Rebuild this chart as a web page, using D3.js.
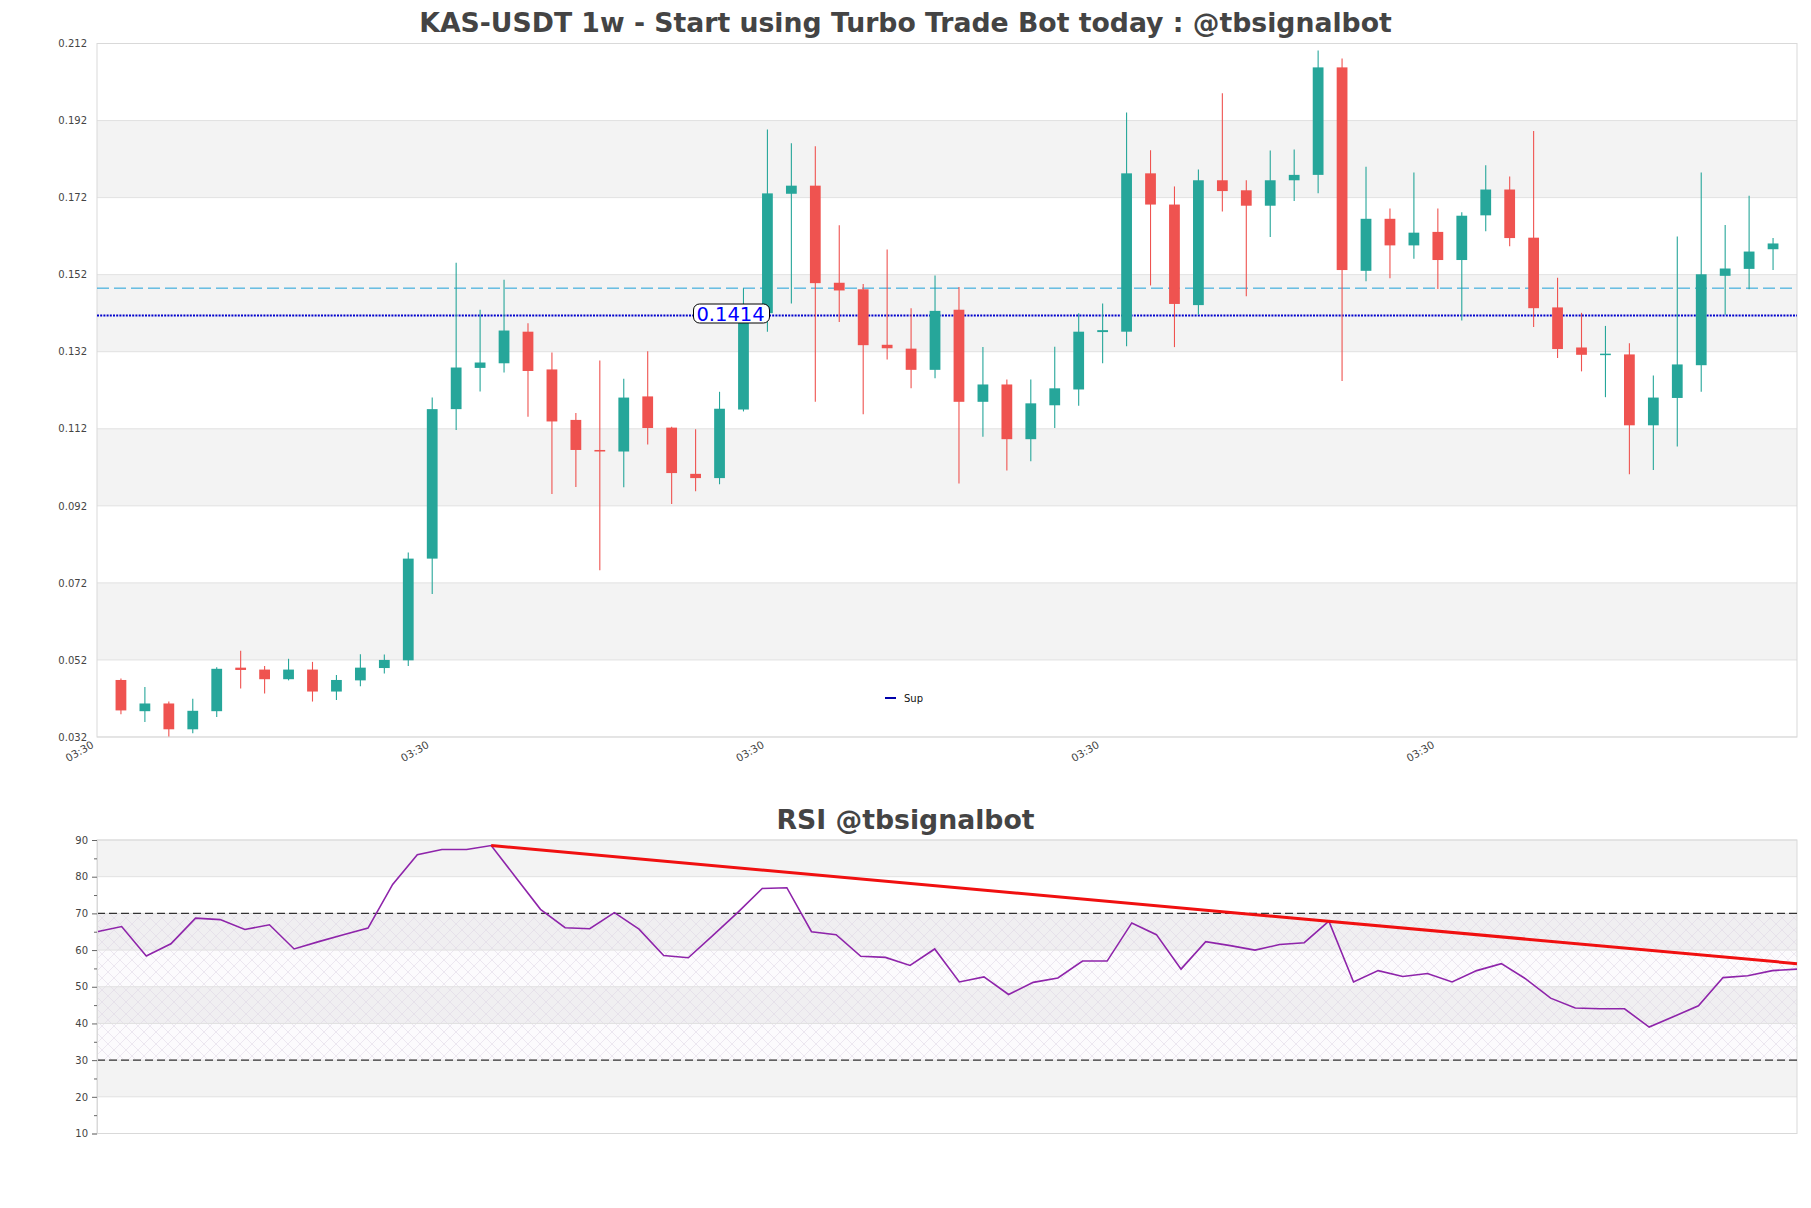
<!DOCTYPE html>
<html><head><meta charset="utf-8">
<script src="https://cdn.jsdelivr.net/npm/d3@7"></script>
<style>body{margin:0;background:#fff;} svg{display:block;}</style>
</head><body><svg id="c" width="1811" height="1208"></svg>
<script>
// ---------- data ----------
const opens  = [0.0468,0.0387,0.0407,0.0340,0.0387,0.0500,0.0495,0.0470,0.0495,0.0438,
                0.0467,0.0499,0.0519,0.0783,0.1171,0.1278,0.1290,0.1372,0.1274,0.1143,
                0.1065,0.1061,0.1204,0.1123,0.1003,0.0992,0.1170,0.1420,0.1730,0.1751,
                0.1499,0.1482,0.1338,0.1328,0.1273,0.1429,0.1190,0.1235,0.1093,0.1181,
                0.1222,0.1371,0.1372,0.1783,0.1702,0.1441,0.1765,0.1739,0.1699,0.1765,
                0.1779,0.2058,0.1530,0.1665,0.1596,0.1631,0.1558,0.1674,0.1741,0.1616,
                0.1435,0.1331,0.1313,0.1313,0.1129,0.1200,0.1285,0.1517,0.1535,0.1586];
const highs  = [0.0472,0.0450,0.0412,0.0419,0.0501,0.0544,0.0504,0.0523,0.0515,0.0481,
                0.0535,0.0534,0.0799,0.1201,0.1551,0.1429,0.1507,0.1394,0.1318,0.1161,
                0.1297,0.1250,0.1321,0.1125,0.1119,0.1216,0.1485,0.1897,0.1861,0.1853,
                0.1648,0.1496,0.1585,0.1433,0.1518,0.1488,0.1332,0.1248,0.1248,0.1333,
                0.1420,0.1445,0.1941,0.1843,0.1749,0.1793,0.1991,0.1765,0.1842,0.1845,
                0.2102,0.2081,0.1800,0.1692,0.1785,0.1692,0.1682,0.1804,0.1775,0.1893,
                0.1512,0.1421,0.1387,0.1342,0.1258,0.1619,0.1785,0.1649,0.1725,0.1615];
const lows   = [0.0379,0.0359,0.0321,0.0330,0.0372,0.0446,0.0433,0.0467,0.0412,0.0416,
                0.0452,0.0485,0.0504,0.0691,0.1117,0.1217,0.1266,0.1151,0.0951,0.0969,
                0.0753,0.0968,0.1079,0.0925,0.0958,0.0976,0.1165,0.1372,0.1445,0.1190,
                0.1397,0.1158,0.1300,0.1225,0.1251,0.0978,0.1099,0.1012,0.1036,0.1122,
                0.1180,0.1290,0.1334,0.1492,0.1332,0.1416,0.1684,0.1464,0.1618,0.1711,
                0.1731,0.1244,0.1503,0.1511,0.1561,0.1483,0.1401,0.1633,0.1594,0.1384,
                0.1304,0.1269,0.1202,0.1002,0.1013,0.1074,0.1216,0.1416,0.1482,0.1532];
const closes = [0.0389,0.0407,0.0340,0.0388,0.0497,0.0494,0.0470,0.0495,0.0438,0.0468,
                0.0500,0.0520,0.0783,0.1171,0.1279,0.1292,0.1375,0.1270,0.1139,0.1065,
                0.1061,0.1201,0.1122,0.1005,0.0992,0.1172,0.1398,0.1731,0.1751,0.1498,
                0.1479,0.1337,0.1329,0.1273,0.1426,0.1190,0.1235,0.1093,0.1186,0.1225,
                0.1372,0.1376,0.1783,0.1702,0.1444,0.1765,0.1737,0.1699,0.1765,0.1779,
                0.2058,0.1532,0.1665,0.1596,0.1629,0.1558,0.1673,0.1741,0.1615,0.1433,
                0.1327,0.1312,0.1315,0.1129,0.1201,0.1287,0.1521,0.1536,0.1580,0.1601];
const xTickIdx    = [-1, 13, 27, 41, 55];
const xTickLabels = ["03:30","03:30","03:30","03:30","03:30"];
const priceTicks  = [0.032,0.052,0.072,0.092,0.112,0.132,0.152,0.172,0.192,0.212];
const supLevel    = 0.1414;
const supLabel    = "0.1414";
const dashLevel   = 0.1485;
const legendLabels = ["Sup"];
const rsiValues = [65.0,66.4,58.4,61.7,68.7,68.3,65.6,66.9,60.3,62.3,
                   64.2,66.0,77.9,86.0,87.4,87.4,88.5,79.8,71.1,66.1,
                   65.8,70.2,65.7,58.5,57.9,64.0,70.2,76.8,77.0,65.0,
                   64.2,58.3,58.0,55.8,60.3,51.3,52.7,47.9,51.2,52.4,
                   57.0,57.0,67.4,64.2,54.8,62.3,61.2,60.0,61.5,62.0,
                   67.9,51.3,54.4,52.8,53.6,51.3,54.4,56.3,52.1,46.9,
                   44.2,44.0,44.0,39.0,41.9,44.8,52.5,53.0,54.4,54.8];
const rsiTicks      = [10,20,30,40,50,60,70,80,90];
const rsiMinorTicks = [15,25,35,45,55,65,75,85];
const rsiLevels     = [70,30];
const trendIdx  = [16,69];
const trendVals = [88.5,56.3];
const mainTitle = "KAS-USDT 1w - Start using Turbo Trade Bot today : @tbsignalbot";
const rsiTitle  = "RSI @tbsignalbot";

// ---------- layout ----------
const svg = d3.select("#c");
svg.append("rect").attr("width",1811).attr("height",1208).attr("fill","#fff");
const L = 97, R = 1797;
const mTop = 43.5, mBot = 737;
const rTop = 840, rBot = 1133.5;
const UP = "#26a69a", DN = "#ef5350";
const GRID = "#e1e1e1", BAND = "#f3f3f3", FRAME = "#d9d9d9";
const FONT = "DejaVu Sans";

const defs = svg.append("defs");
const pat = defs.append("pattern").attr("id","hatch").attr("patternUnits","userSpaceOnUse")
  .attr("width",12).attr("height",12);
pat.append("path").attr("d","M0,0L12,12M12,0L0,12").attr("stroke","#dcd3e2").attr("stroke-width",0.5).attr("fill","none");

// ---------- main chart ----------
const n = closes.length;
const x = d3.scaleLinear().domain([-1, n]).range([L, R]);
const y = d3.scaleLinear().domain([priceTicks[0], priceTicks[priceTicks.length-1]]).range([mBot, mTop]);

const gm = svg.append("g");
for (let k = 0; k < priceTicks.length-1; k++) {
  if (k % 2 === 1) {
    gm.append("rect").attr("x",L).attr("width",R-L)
      .attr("y",y(priceTicks[k+1])).attr("height",y(priceTicks[k])-y(priceTicks[k+1]))
      .attr("fill",BAND);
  }
}
gm.selectAll("line.grid").data(priceTicks).join("line")
  .attr("x1",L).attr("x2",R).attr("y1",d=>y(d)).attr("y2",d=>y(d))
  .attr("stroke",GRID).attr("stroke-width",1);
gm.append("rect").attr("x",L).attr("y",mTop).attr("width",R-L).attr("height",mBot-mTop)
  .attr("fill","none").attr("stroke",FRAME).attr("stroke-width",1);

// y axis
const yAxis = d3.axisLeft(y).tickValues(priceTicks).tickFormat(d3.format(".3f")).tickSize(0).tickPadding(10);
const gy = svg.append("g").attr("transform",`translate(${L},0)`).call(yAxis);
gy.select(".domain").remove();
gy.selectAll("text").attr("font-family",FONT).attr("font-size",10).attr("fill","#444");

// x axis
const xAxis = d3.axisBottom(x).tickValues(xTickIdx).tickFormat((d,i)=>xTickLabels[i]).tickSize(0);
const gx = svg.append("g").attr("transform",`translate(0,${mBot})`).call(xAxis);
gx.select(".domain").remove();
gx.selectAll("text").attr("font-family",FONT).attr("font-size",10.5).attr("fill","#444")
  .attr("text-anchor","end").attr("dy",0).attr("y",0)
  .attr("transform","translate(-3,10) rotate(-30)");

// reference lines
gm.append("line").attr("x1",L).attr("x2",R).attr("y1",y(dashLevel)).attr("y2",y(dashLevel))
  .attr("stroke","#1ea0d8").attr("stroke-width",1).attr("stroke-dasharray","12,5");
gm.append("line").attr("x1",L).attr("x2",R).attr("y1",y(supLevel)).attr("y2",y(supLevel))
  .attr("stroke","#0000cc").attr("stroke-width",2).attr("stroke-dasharray","2,1.2");

// candles
const idx = d3.range(n);
const bw = (x(1)-x(0))*0.45;
const gc = svg.append("g");
gc.selectAll("line.wick").data(idx).join("line")
  .attr("x1",i=>x(i)).attr("x2",i=>x(i))
  .attr("y1",i=>y(highs[i])).attr("y2",i=>y(lows[i]))
  .attr("stroke",i=>closes[i]>=opens[i]?UP:DN).attr("stroke-width",1.1);
gc.selectAll("rect.body").data(idx).join("rect")
  .attr("x",i=>x(i)-bw/2).attr("width",bw)
  .attr("y",i=>y(Math.max(opens[i],closes[i])))
  .attr("height",i=>Math.max(1.5, Math.abs(y(opens[i])-y(closes[i]))))
  .attr("fill",i=>closes[i]>=opens[i]?UP:DN);

// sup label
const lblX = x(25.5), lblY = y(supLevel);
const lg = svg.append("g");
lg.append("rect").attr("x",lblX-38).attr("y",lblY-11.5).attr("width",76).attr("height",19)
  .attr("rx",6).attr("fill","#fff").attr("stroke","#000").attr("stroke-width",1);
lg.append("text").attr("x",lblX-1).attr("y",lblY+5).attr("text-anchor","middle")
  .attr("font-family",FONT).attr("font-size",19.5).attr("fill","#0000ff").text(supLabel);

// legend
const leg = svg.append("g");
leg.append("line").attr("x1",885).attr("x2",896).attr("y1",698).attr("y2",698)
  .attr("stroke","#0000aa").attr("stroke-width",2);
leg.append("text").attr("x",904).attr("y",701.5).attr("font-family",FONT).attr("font-size",10)
  .attr("fill","#111").text(legendLabels[0]);

// title
svg.append("text").attr("x",905.5).attr("y",32).attr("text-anchor","middle")
  .attr("font-family",FONT).attr("font-weight","bold").attr("font-size",26.7)
  .attr("fill","#444").text(mainTitle);

// ---------- RSI ----------
const xr = d3.scaleLinear().domain([0, rsiValues.length-1]).range([L, R]);
const yr = d3.scaleLinear().domain([rsiTicks[0], rsiTicks[rsiTicks.length-1]]).range([rBot, rTop]);
const gr = svg.append("g");
for (let k = 0; k < rsiTicks.length-1; k++) {
  if (k % 2 === 1) {
    gr.append("rect").attr("x",L).attr("width",R-L)
      .attr("y",yr(rsiTicks[k+1])).attr("height",yr(rsiTicks[k])-yr(rsiTicks[k+1]))
      .attr("fill",BAND);
  }
}
gr.append("rect").attr("x",L).attr("width",R-L).attr("y",yr(rsiLevels[0]))
  .attr("height",yr(rsiLevels[1])-yr(rsiLevels[0])).attr("fill","rgba(200,185,215,0.05)");
gr.append("rect").attr("x",L).attr("width",R-L).attr("y",yr(rsiLevels[0]))
  .attr("height",yr(rsiLevels[1])-yr(rsiLevels[0])).attr("fill","url(#hatch)");
gr.selectAll("line.grid").data(rsiTicks).join("line")
  .attr("x1",L).attr("x2",R).attr("y1",d=>yr(d)).attr("y2",d=>yr(d))
  .attr("stroke",GRID).attr("stroke-width",1);
gr.append("rect").attr("x",L).attr("y",rTop).attr("width",R-L).attr("height",rBot-rTop)
  .attr("fill","none").attr("stroke",FRAME).attr("stroke-width",1);
gr.selectAll("line.lvl").data(rsiLevels).join("line")
  .attr("x1",L).attr("x2",R).attr("y1",d=>yr(d)).attr("y2",d=>yr(d))
  .attr("stroke","#333").attr("stroke-width",1.1).attr("stroke-dasharray","8,4");

const ry = d3.axisLeft(yr).tickValues(rsiTicks).tickSize(5).tickPadding(4);
const gry = svg.append("g").attr("transform",`translate(${L},0)`).call(ry);
gry.select(".domain").attr("stroke",FRAME);
gry.selectAll("line").attr("stroke","#666");
gry.selectAll("text").attr("font-family",FONT).attr("font-size",10).attr("fill","#444");
const rym = d3.axisLeft(yr).tickValues(rsiMinorTicks).tickSize(3).tickFormat("");
const grm = svg.append("g").attr("transform",`translate(${L},0)`).call(rym);
grm.select(".domain").remove();
grm.selectAll("line").attr("stroke","#666");

gr.append("path").datum(rsiValues)
  .attr("d", d3.line().x((d,i)=>xr(i)).y(d=>yr(d)))
  .attr("fill","none").attr("stroke","#8e24aa").attr("stroke-width",1.6);
gr.append("path").datum(trendIdx.map((t,i)=>[t,trendVals[i]]))
  .attr("d", d3.line().x(d=>xr(d[0])).y(d=>yr(d[1])))
  .attr("fill","none").attr("stroke","#f01010").attr("stroke-width",3);

svg.append("text").attr("x",905.5).attr("y",829).attr("text-anchor","middle")
  .attr("font-family",FONT).attr("font-weight","bold").attr("font-size",26.7)
  .attr("fill","#444").text(rsiTitle);
</script></body></html>
